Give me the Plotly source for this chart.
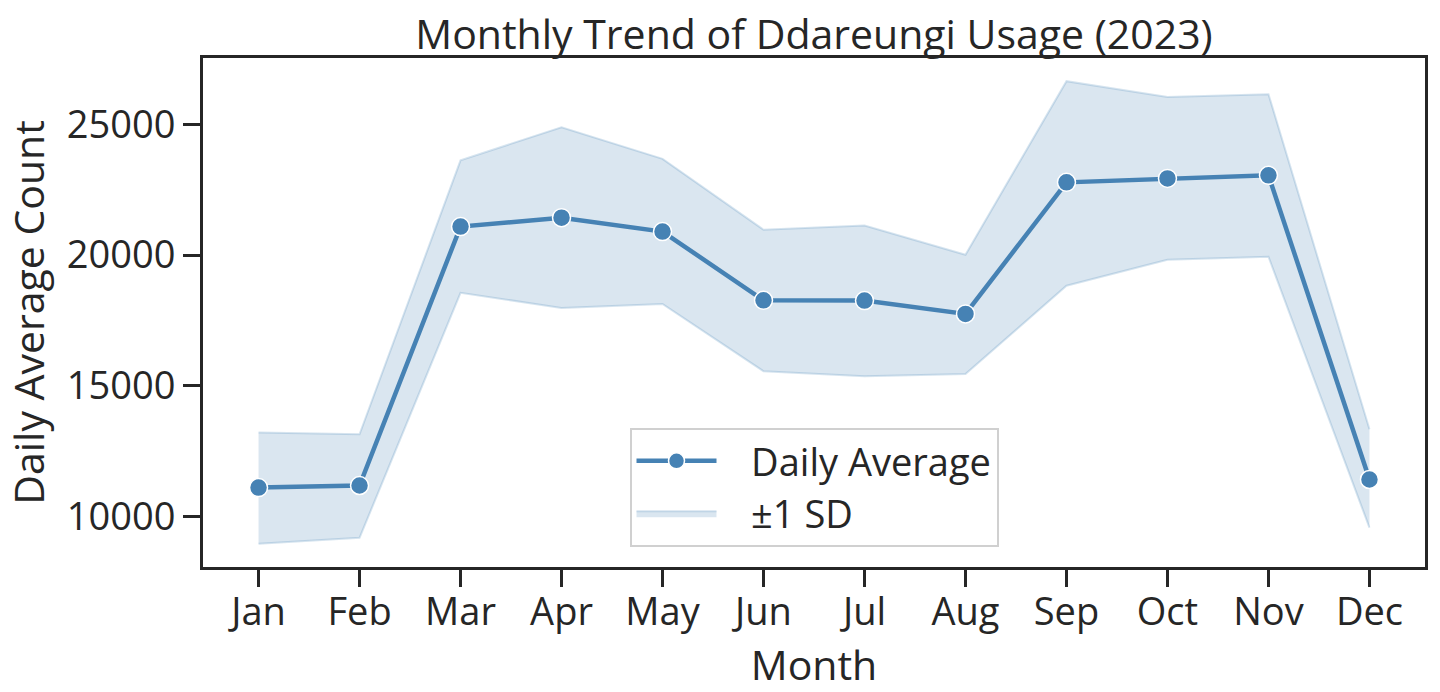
import plotly.graph_objects as go

months = ["Jan", "Feb", "Mar", "Apr", "May", "Jun", "Jul", "Aug", "Sep", "Oct", "Nov", "Dec"]
daily_avg = [11110, 11190, 21090, 21430, 20900, 18270, 18260, 17750, 22780, 22930, 23050, 11420]
upper_sd = [13220, 13150, 23620, 24890, 23680, 20970, 21130, 20010, 26650, 26040, 26150, 13340]
lower_sd = [8960, 9190, 18560, 17980, 18130, 15560, 15370, 15450, 18830, 19820, 19940, 9580]

FONT = "Open Sans"
DARK = "#262626"
LINE = "#4682B4"
PAD = "\u00a0\u00a0\u00a0"

fig = go.Figure()
fig.add_trace(go.Scatter(x=months, y=upper_sd, mode="lines",
                         line=dict(color="rgba(70,130,180,0.22)", width=2),
                         showlegend=False, hoverinfo="skip"))
fig.add_trace(go.Scatter(x=months, y=lower_sd, mode="lines", fill="tonexty",
                         fillcolor="rgba(70,130,180,0.2)",
                         line=dict(color="rgba(70,130,180,0.22)", width=2),
                         name=PAD + "±1 SD", legendrank=2))
fig.add_trace(go.Scatter(x=months, y=daily_avg, mode="lines+markers",
                         line=dict(color=LINE, width=4.5),
                         marker=dict(size=18, color=LINE, line=dict(color="white", width=1.5)),
                         name=PAD + "Daily Average", legendrank=1))

fig.update_layout(
    width=1440, height=692,
    margin=dict(l=203, r=15, t=58, b=125),
    paper_bgcolor="white", plot_bgcolor="white",
    font=dict(family=FONT, color=DARK, size=38),
    title=dict(text="Monthly Trend of Ddareungi Usage (2023)", x=0.5, xref="paper",
               y=1 - 35 / 692, yanchor="middle", font=dict(size=41, color=DARK)),
    legend=dict(x=0.5, xanchor="center", y=0.04, yanchor="bottom", traceorder="normal",
                bgcolor="rgba(255,255,255,0.8)", bordercolor="#d0d0d0", borderwidth=2,
                font=dict(size=38, color=DARK), itemwidth=80, tracegroupgap=0),
    showlegend=True,
)
fig.update_xaxes(
    range=[-0.55, 11.55], showgrid=False, zeroline=False,
    showline=True, linewidth=3, linecolor=DARK, mirror=True,
    ticks="outside", ticklen=17, tickwidth=3, tickcolor=DARK,
    ticklabelstandoff=-8,
    tickfont=dict(size=38, color=DARK),
    title=dict(text="Month", font=dict(size=41, color=DARK), standoff=0),
)
fig.update_yaxes(
    range=[8075, 27535], showgrid=False, zeroline=False,
    showline=True, linewidth=3, linecolor=DARK, mirror=True,
    ticks="outside", ticklen=17, tickwidth=3, tickcolor=DARK,
    tickvals=[10000, 15000, 20000, 25000], ticktext=["10000", "15000", "20000", "25000"],
    tickfont=dict(size=38, color=DARK),
    title=dict(text="Daily Average Count", font=dict(size=41, color=DARK), standoff=10),
)

fig.write_html("out.html")
